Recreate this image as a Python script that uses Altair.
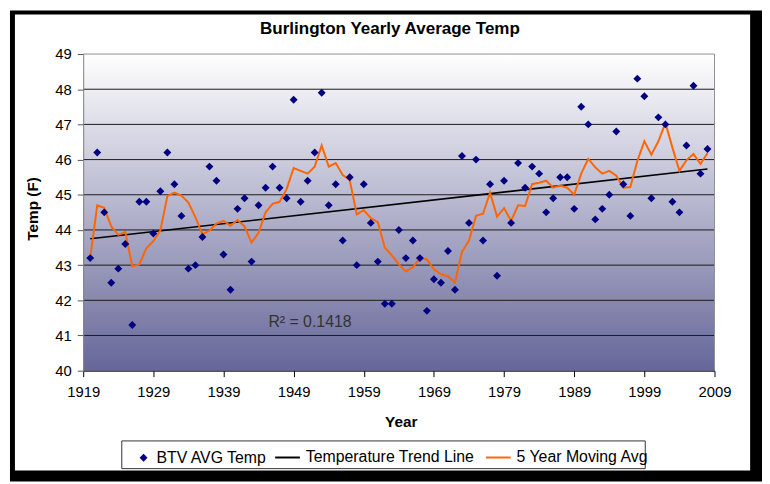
import altair as alt
import pandas as pd

# ---------------- data ----------------
years = list(range(1920, 2009))
temps = [
    43.2, 46.2, 44.5, 42.5, 42.9, 43.6, 41.3, 44.8, 44.8, 43.9,   # 1920-1929
    45.1, 46.2, 45.3, 44.4, 42.9, 43.0, 43.8, 45.8, 45.4, 43.3,   # 1930-1939
    42.3, 44.6, 44.9, 43.1, 44.7, 45.2, 45.8, 45.2, 44.9, 47.7,   # 1940-1949
    44.8, 45.4, 46.2, 47.9, 44.7, 45.3, 43.7, 45.5, 43.0, 45.3,   # 1950-1959
    44.2, 43.1, 41.9, 41.9, 44.0, 43.2, 43.7, 43.2, 41.7, 42.6,   # 1960-1969
    42.5, 43.4, 42.3, 46.1, 44.2, 46.0, 43.7, 45.3, 42.7, 45.4,   # 1970-1979
    44.2, 45.9, 45.2, 45.8, 45.6, 44.5, 44.9, 45.5, 45.5, 44.6,   # 1980-1989
    47.5, 47.0, 44.3, 44.6, 45.0, 46.8, 45.3, 44.4, 48.3, 47.8,   # 1990-1999
    44.9, 47.2, 47.0, 44.8, 44.5, 46.4, 48.1, 45.6, 46.3,         # 2000-2008
]
moving_avg = [
    43.20, 44.70, 44.63, 44.10, 43.86, 43.94, 42.96, 43.02, 43.48, 43.68,
    43.98, 44.96, 45.06, 44.98, 44.78, 44.36, 43.88, 43.98, 44.18, 44.26,
    44.12, 44.28, 44.10, 43.64, 43.92, 44.50, 44.74, 44.80, 45.16, 45.76,
    45.68, 45.60, 45.80, 46.40, 45.80, 45.90, 45.56, 45.42, 44.44, 44.56,
    44.34, 44.22, 43.50, 43.28, 43.02, 42.82, 42.94, 43.20, 43.16, 42.88,
    42.74, 42.68, 42.50, 43.38, 43.70, 44.40, 44.46, 45.06, 44.38, 44.62,
    44.26, 44.70, 44.68, 45.30, 45.34, 45.40, 45.20, 45.26, 45.20, 45.00,
    45.60, 46.02, 45.78, 45.60, 45.68, 45.54, 45.20, 45.22, 45.96, 46.52,
    46.14, 46.52, 47.04, 46.34, 45.68, 45.98, 46.16, 45.88, 46.18,
]
trend_years = [1920, 2008]
trend_temps = [43.75, 45.73]

x_ticks = list(range(1919, 2010, 10))
y_ticks = list(range(40, 50))
grid_levels = list(range(41, 49))

r2_label = ["R² = 0.1418"]
r2_year = [1945.4]
r2_temp = [41.38]

series_names = ["BTV AVG Temp", "Temperature Trend Line", "5 Year Moving Avg"]

# ---------------- layout ----------------
W, H = 638, 320
FONT = "Liberation Sans"

pts = pd.DataFrame({"year": years, "temp": temps, "series": series_names[0]})
trend = pd.DataFrame({"year": trend_years, "temp": trend_temps, "series": series_names[1]})
ma = pd.DataFrame({"year": years, "temp": moving_avg, "series": series_names[2]})
grid = pd.DataFrame({"temp": grid_levels})
r2 = pd.DataFrame({"year": r2_year, "temp": r2_temp, "label": r2_label})
one = alt.Data(values=[{"a": 1}])

xscale = alt.Scale(domain=[1919, 2009], nice=False, zero=False)
yscale = alt.Scale(domain=[40, 49], nice=False, zero=False)

x_axis = alt.Axis(values=x_ticks, format="d", grid=False, title="Year",
                  labelFontSize=15, labelColor="#000", labelFont=FONT,
                  labelFlush=False, labelOverlap=False, labelPadding=8,
                  tickSize=6, tickColor="#000", domainColor="#000",
                  titleFont=FONT, titleFontSize=15.5, titleFontWeight="bold",
                  titleX=W / 2 + 2, titleY=51, titleBaseline="middle",
                  titleColor="#000", zindex=1)
y_axis = alt.Axis(values=y_ticks, format="d", grid=False, title="Temp (F)",
                  labelFontSize=15, labelColor="#000", labelFont=FONT,
                  labelPadding=6, tickSize=6, tickColor="#555",
                  domainColor="#808080",
                  titleFont=FONT, titleFontSize=15.5, titleFontWeight="bold",
                  titleX=-51, titleY=H / 2 - 4, titleAngle=270,
                  titleAlign="center", titleBaseline="middle",
                  titleColor="#000", zindex=1)

# decorative frame / background
frame_black = alt.Chart(one).mark_rect(color="black").encode(
    x=alt.value(-74), x2=alt.value(686), y=alt.value(-44), y2=alt.value(432))
frame_white = alt.Chart(one).mark_rect(color="white").encode(
    x=alt.value(-69), x2=alt.value(674), y=alt.value(-40), y2=alt.value(421))
plot_bg = alt.Chart(one).mark_rect(
    color=alt.Gradient(gradient="linear",
                       stops=[alt.GradientStop(color="#ffffff", offset=0),
                              alt.GradientStop(color="#666699", offset=1)],
                       x1=0, x2=0, y1=0, y2=1)
).encode(x=alt.value(0), x2=alt.value(W), y=alt.value(0), y2=alt.value(H))

grid_rules = alt.Chart(grid).mark_rule(color="#1a1a1a", strokeWidth=1).encode(
    y=alt.Y("temp:Q", scale=yscale, axis=y_axis))
top_border = alt.Chart(one).mark_rule(color="#909090", strokeWidth=1).encode(
    x=alt.value(0), x2=alt.value(W), y=alt.value(0))
right_border = alt.Chart(one).mark_rule(color="#909090", strokeWidth=1).encode(
    x=alt.value(W), y=alt.value(0), y2=alt.value(H))
legend_box = alt.Chart(one).mark_rect(fill="white", stroke="#333", strokeWidth=1).encode(
    x=alt.value(39), x2=alt.value(568), y=alt.value(391), y2=alt.value(419))

line_color = alt.Color(
    "series:N",
    scale=alt.Scale(domain=series_names[1:], range=["#000000", "#ff6600"]),
    legend=alt.Legend(orient="none", direction="horizontal", legendX=193,
                      legendY=394, title=None, symbolType="stroke",
                      symbolSize=625, symbolStrokeWidth=2, labelFont=FONT,
                      labelFontSize=16, labelColor="#000", labelLimit=400,
                      labelOffset=5, columnPadding=7))

trend_line = alt.Chart(trend).mark_line(strokeWidth=1.6).encode(
    x=alt.X("year:Q", scale=xscale, axis=x_axis),
    y=alt.Y("temp:Q", scale=yscale, axis=y_axis),
    color=line_color)
ma_line = alt.Chart(ma).mark_line(strokeWidth=2).encode(
    x=alt.X("year:Q", scale=xscale, axis=x_axis),
    y=alt.Y("temp:Q", scale=yscale, axis=y_axis),
    color=line_color)
points = alt.Chart(pts).mark_point(filled=True, color="#000080", size=64, opacity=1).encode(
    x=alt.X("year:Q", scale=xscale, axis=x_axis),
    y=alt.Y("temp:Q", scale=yscale, axis=y_axis),
    shape=alt.Shape("series:N",
                    scale=alt.Scale(domain=series_names[:1], range=["diamond"]),
                    legend=alt.Legend(orient="none", legendX=53, legendY=400,
                                      title=None, symbolSize=64,
                                      symbolFillColor="#000080",
                                      symbolStrokeWidth=0, labelFont=FONT,
                                      labelFontSize=16, labelColor="#000",
                                      labelLimit=400, labelOffset=5)))
r2_text = alt.Chart(r2).mark_text(align="left", baseline="middle", font=FONT,
                                  fontSize=16, color="#333333").encode(
    x=alt.X("year:Q", scale=xscale, axis=x_axis),
    y=alt.Y("temp:Q", scale=yscale, axis=y_axis),
    text="label:N")

chart = alt.layer(
    frame_black, frame_white, plot_bg, grid_rules, top_border, right_border,
    legend_box, trend_line, ma_line, points, r2_text
).properties(
    width=W, height=H,
    autosize=alt.AutoSizeParams(type="none"),
    padding={"left": 76, "top": 44, "right": 48, "bottom": 112},
    background="white",
    title=alt.TitleParams("Burlington Yearly Average Temp", font=FONT,
                          fontSize=17.2, fontWeight="bold", color="#000",
                          anchor="middle", frame="group", dx=-9, dy=55,
                          offset=14, baseline="alphabetic", zindex=1),
).configure_view(stroke=None)

chart.save("out.html", embed_options={"renderer": "svg", "actions": False})
